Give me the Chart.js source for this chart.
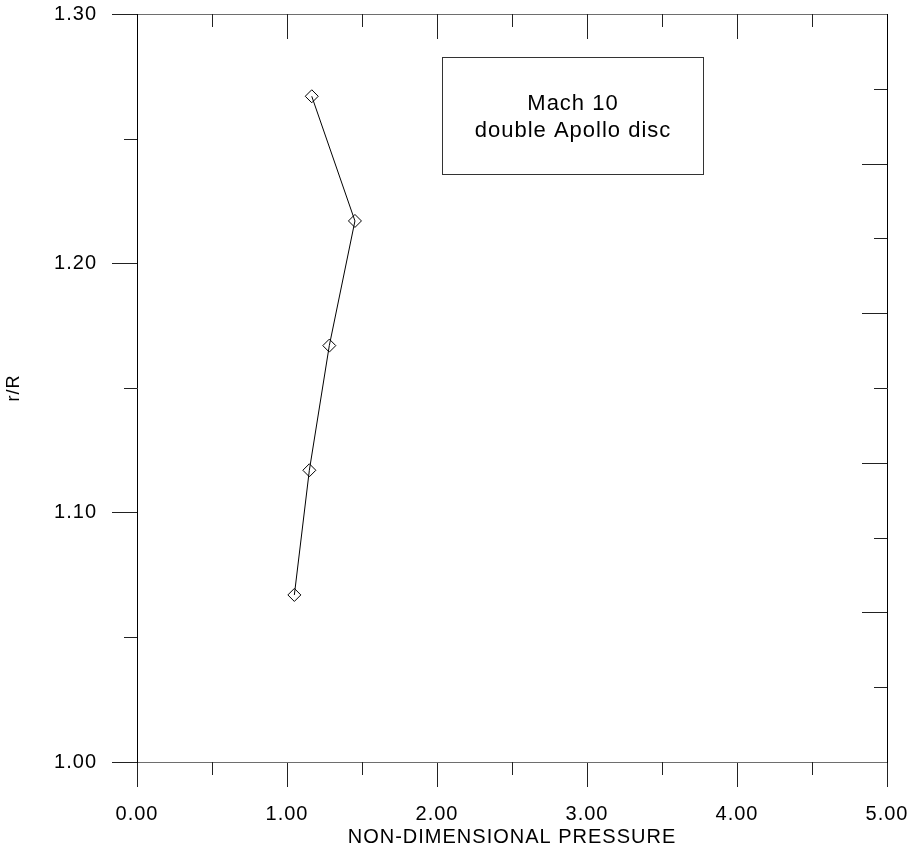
<!DOCTYPE html>
<html>
<head>
<meta charset="utf-8">
<script src="https://cdn.jsdelivr.net/npm/chart.js@4/dist/chart.umd.min.js"></script>
<style>
  html, body { margin: 0; padding: 0; background: #fff; }
  canvas { display: block; }
</style>
</head>
<body>
<canvas id="chart" width="908" height="848"></canvas>
<script>
// values
const pressure = [1.049, 1.149, 1.282, 1.453, 1.165]
const radius = [1.067, 1.117, 1.167, 1.217, 1.267]

const xMajor = [0, 1, 2, 3, 4, 5]
const xMinor = [0.5, 1.5, 2.5, 3.5, 4.5]
const yMinor = [1.05, 1.15, 1.25]
const rightTicks = [1, 2, 3, 4, 5, 6, 7, 8, 9]

const noteLines = ['Mach 10', 'double Apollo disc']

const FONT = "'Liberation Sans', Arial, sans-serif"
const LINE_H = '#6e6e6e'
const LINE_V = '#000'
const TICK = '#222'

Chart.defaults.font.family = FONT
Chart.defaults.color = '#000'

const spacing = {
  id: 'spacing',
  beforeDraw(chart) {
    chart.ctx.letterSpacing = '1px'
  },
}

// minor ticks outside, and inward ticks on the top and right frame
const frameTicks = {
  id: 'frameTicks',
  afterDraw(chart) {
    const { ctx, chartArea: a, scales } = chart
    const { x, y, x2, y2 } = scales
    const px = (v) => Math.round(v) + 0.5
    ctx.save()
    ctx.lineWidth = 1
    ctx.strokeStyle = TICK
    ctx.beginPath()
    xMinor.forEach((v) => {
      const p = px(x.getPixelForValue(v))
      ctx.moveTo(p, a.bottom)
      ctx.lineTo(p, a.bottom + 13)
    })
    yMinor.forEach((v) => {
      const p = px(y.getPixelForValue(v))
      ctx.moveTo(a.left, p)
      ctx.lineTo(a.left - 13, p)
    })
    xMajor.slice(1, -1).forEach((v) => {
      const p = px(x2.getPixelForValue(v))
      ctx.moveTo(p, a.top)
      ctx.lineTo(p, a.top + 25)
    })
    xMinor.forEach((v) => {
      const p = px(x2.getPixelForValue(v))
      ctx.moveTo(p, a.top)
      ctx.lineTo(p, a.top + 13)
    })
    rightTicks.forEach((v) => {
      const p = px(y2.getPixelForValue(v))
      ctx.moveTo(a.right, p)
      ctx.lineTo(a.right - (v % 2 === 0 ? 25 : 13), p)
    })
    ctx.stroke()
    ctx.restore()
  },
}

const noteBox = {
  id: 'noteBox',
  afterDraw(chart) {
    const { ctx } = chart
    ctx.save()
    ctx.strokeStyle = '#333'
    ctx.lineWidth = 1
    ctx.strokeRect(442.5, 57.5, 261, 117)
    ctx.fillStyle = '#000'
    ctx.font = '22px ' + FONT
    ctx.letterSpacing = '1px'
    ctx.textAlign = 'center'
    ctx.textBaseline = 'alphabetic'
    ctx.fillText(noteLines[0], 573, 110)
    ctx.fillText(noteLines[1], 573, 137)
    ctx.restore()
  },
}

new Chart(document.getElementById('chart'), {
  type: 'scatter',
  data: {
    datasets: [
      {
        data: pressure.map((p, i) => ({ x: p, y: radius[i] })),
        showLine: true,
        borderColor: '#000',
        borderWidth: 1,
        pointStyle: 'rectRot',
        pointRadius: 6.5,
        pointBorderWidth: 1,
        pointBorderColor: '#000',
        pointBackgroundColor: 'rgba(0,0,0,0)',
        xAxisID: 'x',
        yAxisID: 'y',
      },
    ],
  },
  options: {
    responsive: false,
    animation: false,
    layout: { padding: 0 },
    plugins: {
      legend: { display: false },
      tooltip: { enabled: false },
    },
    scales: {
      x: {
        type: 'linear',
        position: 'bottom',
        min: 0,
        max: 5,
        ticks: {
          stepSize: 1,
          padding: 15,
          font: { size: 20 },
          color: '#000',
          maxRotation: 0,
          callback: (v) => v.toFixed(2),
        },
        grid: { drawOnChartArea: false, tickLength: 25, tickColor: TICK, lineWidth: 1 },
        border: { color: LINE_H, width: 1 },
        title: {
          display: true,
          text: 'NON-DIMENSIONAL PRESSURE',
          font: { size: 20, lineHeight: 1.05 },
          color: '#000',
          padding: { top: 0, bottom: 0 },
        },
        afterFit: (s) => {
          s.height = 86
          s.paddingLeft = 0
          s.paddingRight = 0
        },
      },
      x2: {
        type: 'linear',
        position: 'top',
        min: 0,
        max: 5,
        ticks: { display: false },
        grid: { display: false },
        border: { color: LINE_H, width: 1 },
        afterFit: (s) => {
          s.height = 14
          s.paddingLeft = 0
          s.paddingRight = 0
        },
      },
      y: {
        type: 'linear',
        position: 'left',
        min: 1,
        max: 1.3,
        ticks: {
          stepSize: 0.1,
          padding: 15,
          font: { size: 20 },
          color: '#000',
          callback: (v) => v.toFixed(2),
        },
        grid: { drawOnChartArea: false, tickLength: 25, tickColor: TICK, lineWidth: 1 },
        border: { color: LINE_V, width: 1 },
        title: {
          display: true,
          text: 'r/R',
          font: { size: 18 },
          color: '#000',
          padding: { top: 3, bottom: 0 },
        },
        afterFit: (s) => {
          s.width = 137
          s.paddingTop = 0
          s.paddingBottom = 0
        },
      },
      y2: {
        type: 'linear',
        position: 'right',
        min: 0,
        max: 10,
        ticks: { display: false },
        grid: { display: false },
        border: { color: LINE_V, width: 1 },
        afterFit: (s) => {
          s.width = 21
          s.paddingTop = 0
          s.paddingBottom = 0
        },
      },
    },
  },
  plugins: [spacing, frameTicks, noteBox],
})
</script>
</body>
</html>
